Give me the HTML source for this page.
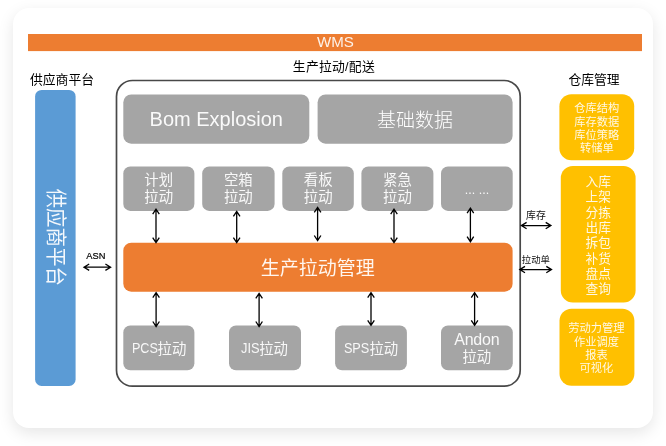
<!DOCTYPE html>
<html lang="zh-CN">
<head>
<meta charset="utf-8">
<title>WMS 生产拉动/配送</title>
<style>
html,body{margin:0;padding:0;background:#fff;}
body{width:666px;height:446px;position:relative;overflow:hidden;font-family:"Liberation Sans","Noto Sans CJK SC",sans-serif;}
.card{position:absolute;left:13px;top:8px;width:640px;height:420px;border-radius:16px;background:#fff;box-shadow:0 5px 16px rgba(0,0,0,0.10);}
svg{position:absolute;left:0;top:0;will-change:transform;}
text{font-family:"Liberation Sans","Noto Sans CJK SC",sans-serif;}
.lbl{font-size:12.8px;fill:#000;}
.g{fill:#a5a5a5;}
.w{fill:#fff;}
.y{fill:#ffc000;}
.yt{fill:#fff8e4;font-size:11.25px;}
.yt2{fill:#fff8e4;font-size:12.7px;}
.st{font-size:14.4px;fill:#f8f8f8;}
.ar{stroke:#000;stroke-width:1.3;fill:none;}
.sm{font-size:9.6px;fill:#111;}
</style>
</head>
<body>
<div class="card"></div>
<svg width="666" height="446" viewBox="0 0 666 446">
  <!-- WMS bar -->
  <rect x="28" y="34" width="614" height="17.1" fill="#ed7d31"/>
  <text x="335.4" y="47.2" text-anchor="middle" font-size="15.1" fill="#fdf1e8">WMS</text>

  <!-- labels -->
  <text class="lbl" x="30" y="84">供应商平台</text>
  <text class="lbl" x="333.9" y="71" text-anchor="middle" style="letter-spacing:0.25px">生产拉动/配送</text>
  <text class="lbl" x="594" y="83.5" text-anchor="middle">仓库管理</text>

  <!-- supplier platform -->
  <rect x="35.1" y="89.9" width="40.5" height="296.1" rx="6.5" fill="#5b9bd5"/>
  <text transform="translate(55 237.3) rotate(90) scale(1 1.07)" text-anchor="middle" font-size="19.5" fill="#f4f8fc" y="5.9">供应商平台</text>

  <!-- main frame -->
  <rect x="116.5" y="80.5" width="403.7" height="305.7" rx="16" fill="#fff" stroke="#484848" stroke-width="1.7"/>

  <!-- top grey boxes -->
  <rect class="g" x="123.3" y="94.4" width="186" height="49.3" rx="8"/>
  <text x="216.3" y="125.7" text-anchor="middle" font-size="20" fill="#fafafa">Bom Explosion</text>
  <rect class="g" x="317.6" y="94.4" width="195" height="49.3" rx="8"/>
  <text x="415" y="127" text-anchor="middle" font-size="19" fill="#fff" font-weight="300">基础数据</text>

  <!-- small grey boxes -->
  <g>
    <rect class="g" x="123.3" y="166.4" width="71.1" height="44.5" rx="7"/>
    <text class="st" x="158.7" y="185" text-anchor="middle">计划</text>
    <text class="st" x="158.7" y="202" text-anchor="middle">拉动</text>
    <rect class="g" x="202.2" y="166.4" width="72.4" height="44.5" rx="7"/>
    <text class="st" x="238.3" y="185" text-anchor="middle">空箱</text>
    <text class="st" x="238.3" y="202" text-anchor="middle">拉动</text>
    <rect class="g" x="282.3" y="166.4" width="71.5" height="44.5" rx="7"/>
    <text class="st" x="318.2" y="185" text-anchor="middle">看板</text>
    <text class="st" x="318.2" y="202" text-anchor="middle">拉动</text>
    <rect class="g" x="361.4" y="166.4" width="72" height="44.5" rx="7"/>
    <text class="st" x="397.5" y="185" text-anchor="middle">紧急</text>
    <text class="st" x="397.5" y="202" text-anchor="middle">拉动</text>
    <rect class="g" x="441" y="166.4" width="71.7" height="44.5" rx="7"/>
    <text class="st" x="477" y="194.3" text-anchor="middle" style="font-size:12.5px">... ...</text>
  </g>

  <!-- orange main -->
  <rect x="123.3" y="242.7" width="389.3" height="49" rx="8" fill="#ed7d31"/>
  <text x="317.8" y="275" text-anchor="middle" font-size="19" fill="#fff6ef">生产拉动管理</text>

  <!-- bottom grey boxes -->
  <rect class="g" x="123.3" y="325.5" width="71.1" height="44.8" rx="7"/>
  <text class="st" x="131.9" y="353.4" style="font-size:15px" textLength="26" lengthAdjust="spacingAndGlyphs">PCS</text><text class="st" x="157.6" y="353.5" style="font-size:14.4px">拉动</text>
  <rect class="g" x="229" y="325.5" width="72" height="44.8" rx="7"/>
  <text class="st" x="241.0" y="353.4" style="font-size:15px" textLength="18.6" lengthAdjust="spacingAndGlyphs">JIS</text><text class="st" x="259.2" y="353.5" style="font-size:14.4px">拉动</text>
  <rect class="g" x="335.1" y="325.5" width="71.8" height="44.8" rx="7"/>
  <text class="st" x="343.9" y="353.4" style="font-size:15px" textLength="25.4" lengthAdjust="spacingAndGlyphs">SPS</text><text class="st" x="369.4" y="353.5" style="font-size:14.4px">拉动</text>
  <rect class="g" x="441" y="325.5" width="71.8" height="44.8" rx="7"/>
  <text class="st" x="476.8" y="345" text-anchor="middle" style="font-size:16px;letter-spacing:-0.2px">Andon</text>
  <text class="st" x="476.8" y="361.8" text-anchor="middle">拉动</text>

  <!-- vertical arrows -->
  <path class="ar" d="M156 209.2V242.6M152.7 214.2L156 209.2L159.3 214.2M152.7 237.6L156 242.6L159.3 237.6"/>
  <path class="ar" d="M236.7 211.4V242.6M233.4 216.4L236.7 211.4L240 216.4M233.4 237.6L236.7 242.6L240 237.6"/>
  <path class="ar" d="M317.6 207.4V240.5M314.3 212.4L317.6 207.4L320.9 212.4M314.3 235.5L317.6 240.5L320.9 235.5"/>
  <path class="ar" d="M394 209.2V242.6M390.7 214.2L394 209.2L397.3 214.2M390.7 237.6L394 242.6L397.3 237.6"/>
  <path class="ar" d="M470.4 208.2V241.7M467.1 213.2L470.4 208.2L473.7 213.2M467.1 236.7L470.4 241.7L473.7 236.7"/>
  <path class="ar" d="M156.1 292.6V326.5M152.8 297.6L156.1 292.6L159.4 297.6M152.8 321.5L156.1 326.5L159.4 321.5"/>
  <path class="ar" d="M259.1 293.4V326.5M255.8 298.4L259.1 293.4L262.4 298.4M255.8 321.5L259.1 326.5L262.4 321.5"/>
  <path class="ar" d="M371 292.6V325.4M367.7 297.6L371 292.6L374.3 297.6M367.7 320.4L371 325.4L374.3 320.4"/>
  <path class="ar" d="M474.6 292.6V325.4M471.3 297.6L474.6 292.6L477.9 297.6M471.3 320.4L474.6 325.4L477.9 320.4"/>

  <!-- horizontal arrows -->
  <text x="86.3" y="259" font-size="9.9" textLength="19.1" lengthAdjust="spacingAndGlyphs" fill="#000" stroke="#000" stroke-width="0.2">ASN</text>
  <path class="ar" d="M84.0 267.2H110.6M89.2 264.0L84.0 267.2L89.2 270.4M105.4 264.0L110.6 267.2L105.4 270.4"/>
  <text class="sm" x="536" y="218.7" style="font-size:9.9px" text-anchor="middle">库存</text>
  <path class="ar" d="M521.4 225.6H550.9M526.6 222.4L521.4 225.6L526.6 228.8M545.7 222.4L550.9 225.6L545.7 228.8"/>
  <text class="sm" x="535.9" y="263.2" text-anchor="middle" style="font-size:9.4px">拉动单</text>
  <path class="ar" d="M519.8 269.6H551.5M525.0 266.4L519.8 269.6L525.0 272.8M546.3 266.4L551.5 269.6L546.3 272.8"/>

  <!-- yellow boxes -->
  <rect class="y" x="559.4" y="94.3" width="74.8" height="66" rx="12"/>
  <g class="yt" text-anchor="middle">
    <text x="596.8" y="112.2">仓库结构</text>
    <text x="596.8" y="125.5">库存数据</text>
    <text x="596.8" y="138.8">库位策略</text>
    <text x="596.8" y="152.1">转储单</text>
  </g>
  <rect class="y" x="560.8" y="166.1" width="74.8" height="136.5" rx="12"/>
  <g class="yt2" text-anchor="middle">
    <text x="598.3" y="186">入库</text>
    <text x="598.3" y="201.3">上架</text>
    <text x="598.3" y="216.6">分拣</text>
    <text x="598.3" y="231.9">出库</text>
    <text x="598.3" y="247.2">拆包</text>
    <text x="598.3" y="262.5">补货</text>
    <text x="598.3" y="277.8">盘点</text>
    <text x="598.3" y="293.1">查询</text>
  </g>
  <rect class="y" x="559.5" y="308.7" width="74.9" height="77" rx="12"/>
  <g class="yt" text-anchor="middle">
    <text x="596.5" y="332.3">劳动力管理</text>
    <text x="596.5" y="345.6">作业调度</text>
    <text x="596.5" y="358.9">报表</text>
    <text x="596.5" y="372.2">可视化</text>
  </g>
</svg>
</body>
</html>
